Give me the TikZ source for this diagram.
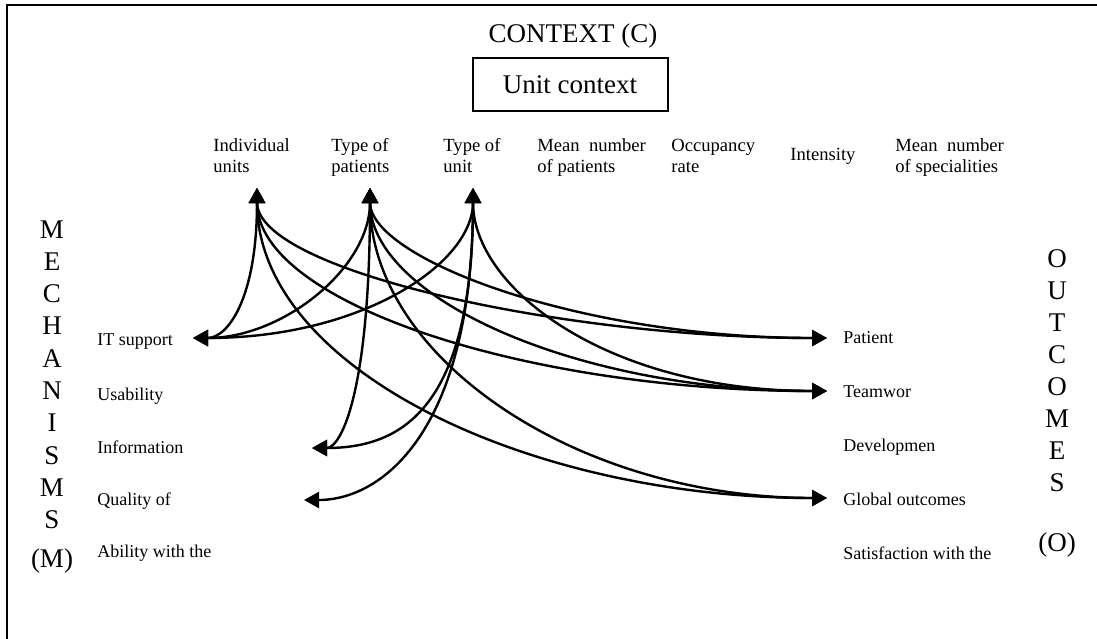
\documentclass[tikz,border=0pt]{standalone}
\usepackage{fontspec}
\setmainfont{Liberation Serif}
\usetikzlibrary{arrows.meta}
\tikzset{
	lbl/.style={font=\fontsize{9.3}{10.5}\selectfont, align=left, anchor=base west, inner sep=0pt},
	side/.style={font=\fontsize{9}{10}\selectfont, anchor=base west, inner sep=0pt},
	big/.style={font=\fontsize{13.5}{16}\selectfont, anchor=base, inner sep=0pt},
	link/.style={line width=1.2pt, {Triangle[length=7.5pt,width=8pt]}-{Triangle[length=7.5pt,width=8pt]}}
}
\newcommand {\lnk}[4] {\draw[link] (#1) .. controls +(0,#3) and +(#4,0) .. (#2);}

\begin{document}
\begin{tikzpicture}[x=0.5pt,y=-0.5pt]
	\useasboundingbox (0,0) rectangle (1097,638);
	\clip (0,0) rectangle (1097,638);
	\draw[line width=1pt] (6.5,700) -- (6.5,5) -- (1150,5);
	\node[big] (ctx) at (573,42) {CONTEXT (C)};
	\node[draw, line width=1pt, minimum width=97.5pt, minimum height=26.5pt, inner sep=0pt, font=\fontsize{13.5}{16}\selectfont] (unit) at (570,84.5) {Unit context};
	\node[lbl] (indiv) at (213,172) {Individual\\units};
	\node[lbl] (typpat) at (331,172) {Type of\\patients};
	\node[lbl] (typunit) at (443,172) {Type of\\unit};
	\node[lbl] (meannb) at (537,172) {Mean\ \ number\\of patients};
	\node[lbl] (occ) at (671,172) {Occupancy\\rate};
	\node[lbl] (inten) at (790,160) {Intensity};
	\node[lbl] (meanspec) at (895,172) {Mean\ \ number\\of specialities};
	\foreach \l [count=\i] in {M,E,C,H,A,N,I,S,M,S}
		\node[big] (mech\i) at (52,{238+32.3*(\i-1)}) {\l};
	\node[big] (mechM) at (52,567) {(M)};
	\foreach \l [count=\i] in {O,U,T,C,O,M,E,S}
		\node[big] (outc\i) at (1057,{267+32*(\i-1)}) {\l};
	\node[big] (outcO) at (1057,551) {(O)};
	\node[side] (itsup) at (97,345) {IT support};
	\node[side] (usab) at (97,400) {Usability};
	\node[side] (info) at (97,453) {Information};
	\node[side] (qual) at (97,505) {Quality of};
	\node[side] (abil) at (97,557) {Ability with the};
	\node[side] (pat) at (843,343) {Patient};
	\node[side] (team) at (843,397) {Teamwor};
	\node[side] (devel) at (843,451) {Developmen};
	\node[side] (glob) at (843,505) {Global outcomes};
	\node[side] (satis) at (843,559) {Satisfaction with the};
	\coordinate (tIndiv) at (257,188);
	\coordinate (tTyppat) at (370,188);
	\coordinate (tTypunit) at (473,188);
	\coordinate (tItsup) at (193,338);
	\coordinate (tInfo) at (312,448);
	\coordinate (tQual) at (304,500);
	\coordinate (tPat) at (827,338);
	\coordinate (tTeam) at (827,391);
	\coordinate (tGlob) at (827,498);
	\lnk{tIndiv}{tItsup}{110}{35}
	\lnk{tIndiv}{tPat}{82}{-267}
	\lnk{tIndiv}{tTeam}{115}{-300}
	\lnk{tIndiv}{tGlob}{180}{-300}
	\lnk{tTyppat}{tItsup}{80}{90}
	\lnk{tTyppat}{tInfo}{200}{30}
	\lnk{tTyppat}{tPat}{70}{-250}
	\lnk{tTyppat}{tTeam}{110}{-250}
	\lnk{tTyppat}{tGlob}{170}{-250}
	\lnk{tTypunit}{tItsup}{75}{170}
	\lnk{tTypunit}{tInfo}{220}{90}
	\lnk{tTypunit}{tQual}{240}{80}
	\lnk{tTypunit}{tTeam}{100}{-220}
\end{tikzpicture}
\end{document}
